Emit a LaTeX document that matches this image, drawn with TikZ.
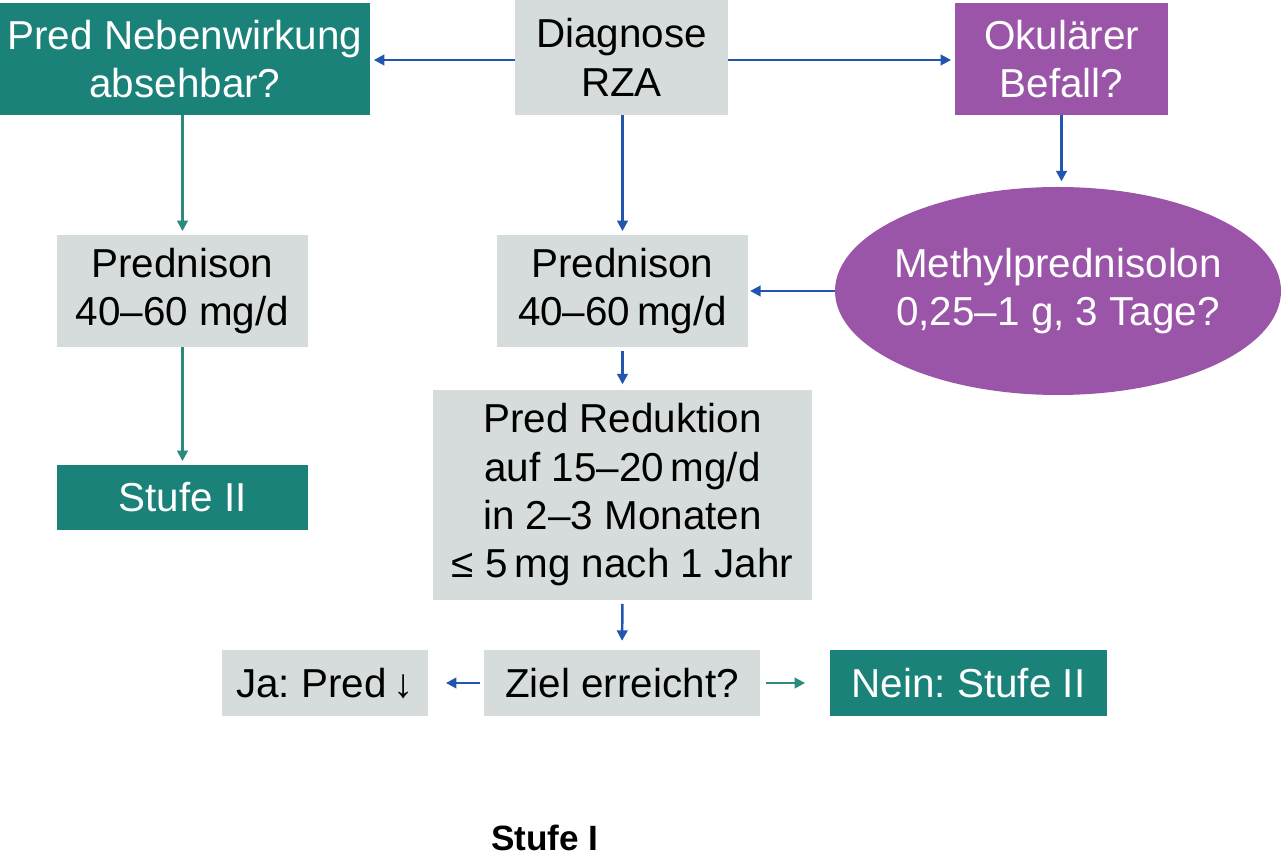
\documentclass[tikz,border=0pt]{standalone}
\usepackage{fontspec}
\setmainfont{Liberation Sans}
\frenchspacing
\usetikzlibrary{shapes.geometric,arrows.meta}
\definecolor{tealc}{HTML}{1A8278}
\definecolor{grayc}{HTML}{D6DCDC}
\definecolor{purplec}{HTML}{9B55A8}
\definecolor{bluea}{HTML}{2155B0}
\definecolor{teala}{HTML}{2A8A7E}
\tikzset{
  txt/.style={align=center, font=\fontsize{23}{27.5}\selectfont},
  box/.style={rectangle, inner sep=0pt, txt},
  graybox/.style={box, fill=grayc, text=black},
  tealbox/.style={box, fill=tealc, text=white},
  purplebox/.style={box, fill=purplec, text=white},
  barrow/.style={draw=bluea, line width=1.4pt, -{Triangle[length=6pt,width=6pt]}},
  tarrow/.style={draw=teala, line width=1.4pt, -{Triangle[length=6pt,width=6pt]}},
}
\begin{document}
\begin{tikzpicture}[x=0.02cm,y=-0.02cm]
\useasboundingbox (0,0) rectangle (1281,857);
\node[tealbox, minimum width=370*0.02cm, minimum height=112*0.02cm] (neben) at (185,59) {Pred Nebenwirkung\\absehbar?};
\node[graybox, minimum width=213*0.02cm, minimum height=115*0.02cm] (diag) at (621.5,57.5) {Diagnose\\RZA};
\node[purplebox, minimum width=213*0.02cm, minimum height=112*0.02cm] (okul) at (1061.5,59) {Okulärer\\Befall?};
\node[graybox, minimum width=251*0.02cm, minimum height=112*0.02cm] (predL) at (182.5,291) {Prednison\\40–60 mg/d};
\node[graybox, minimum width=251*0.02cm, minimum height=112*0.02cm] (predC) at (622.5,291) {Prednison\\40–60\,mg/d};
\node[ellipse, fill=purplec, inner sep=0pt, minimum width=446*0.02cm, minimum height=208*0.02cm,
  label={[txt, text=white]center:Methylprednisolon\\0,25–1 g, 3 Tage?}] (meth) at (1058,291) {};
\node[graybox, minimum width=379*0.02cm, minimum height=210*0.02cm] (red) at (622.5,495) {Pred Reduktion\\auf 15–20\,mg/d\\in 2–3 Monaten\\≤ 5\,mg nach 1 Jahr};
\node[tealbox, minimum width=251*0.02cm, minimum height=65*0.02cm] (stufeL) at (182.5,497.5) {Stufe II};
\node[graybox, minimum width=206*0.02cm, minimum height=66*0.02cm] (ja) at (325,683) {Ja: Pred\,↓};
\node[graybox, minimum width=276*0.02cm, minimum height=66*0.02cm] (ziel) at (622,683) {Ziel erreicht?};
\node[tealbox, minimum width=277*0.02cm, minimum height=66*0.02cm] (nein) at (968.5,683) {Nein: Stufe II};
\node[font=\bfseries\fontsize{20}{23}\selectfont] (stufe1) at (545,838) {Stufe I};

\coordinate (rowy) at (0,60);
\draw[barrow, shorten >=2pt] (diag.west |- rowy) -- (neben.east |- rowy);
\draw[barrow, shorten >=2pt] (diag.east |- rowy) -- (okul.west |- rowy);
\draw[barrow, shorten >=2pt] (diag.south -| predC.north) -- (predC.north);
\draw[barrow, shorten >=3pt] (okul.south) -- (okul.south |- meth.north);
\draw[barrow, shorten >=1pt] (meth.west) -- (predC.east);
\draw[tarrow, shorten >=2pt] (neben.south -| predL.north) -- (predL.north);
\draw[tarrow, shorten >=2pt] (predL.south) -- (stufeL.north);
\draw[barrow, shorten <=2pt, shorten >=3pt] (predC.south) -- (red.north);
\draw[barrow, shorten <=2pt, shorten >=5pt] (red.south) -- (ziel.north);
\draw[barrow, shorten <=2pt, shorten >=10pt] (ziel.west) -- (ja.east);
\draw[tarrow, shorten <=3pt, shorten >=14pt] (ziel.east) -- (nein.west);
\end{tikzpicture}
\end{document}
